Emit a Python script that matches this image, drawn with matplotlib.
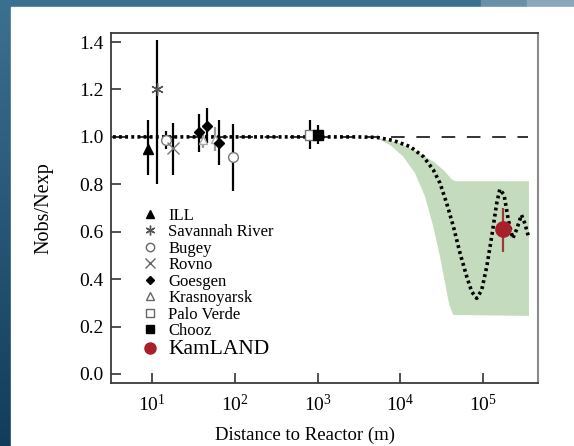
import numpy as np
import matplotlib
matplotlib.use("Agg")
import matplotlib.pyplot as plt
from matplotlib.lines import Line2D
from matplotlib.patches import Rectangle
from matplotlib.ticker import FixedLocator, LogFormatterMathtext, NullLocator

plt.rcParams['font.family'] = ['Liberation Serif', 'DejaVu Serif']
plt.rcParams['mathtext.fontset'] = 'stix'

# Datos (distancia en m, Nobs/Nexp, error abajo, error arriba)
ill_x = [8.9]
ill_y = [0.95]
ill_err = [[0.11], [0.12]]

savannah_x = [11.5]
savannah_y = [1.20]
savannah_err = [[0.40], [0.21]]

bugey_x = [14.8, 94.8]
bugey_y = [0.987, 0.917]
bugey_err = [[0.04, 0.144], [0.04, 0.137]]

rovno_x = [18.2]
rovno_y = [0.952]
rovno_err = [[0.112], [0.108]]

goesgen_x = [37.5, 46.8, 65.3]
goesgen_y = [1.02, 1.046, 0.973]
goesgen_err = [[0.082, 0.071, 0.093], [0.076, 0.074, 0.097]]

krasno_x = [42.0, 58.0]
krasno_y = [0.985, 0.99]
krasno_err = [[0.03, 0.05], [0.03, 0.05]]

paloverde_x = [820.0]
paloverde_y = [1.01]
paloverde_err = [[0.06], [0.06]]

chooz_x = [1000.0]
chooz_y = [1.01]
chooz_err = [[0.04], [0.04]]

kamland_x = [1.74e5]
kamland_y = [0.611]
kamland_err = [[0.095], [0.09]]

# linea de referencia (sin oscilacion)
ref_x = [3.4, 3.5e5]
ref_y = [1.0, 1.0]

# curva de oscilacion punteada
curva_x = [3.4, 1000, 3000, 5.2e3, 8.2e3, 1.31e4, 1.89e4, 2.49e4, 3.0e4, 3.61e4,
           4.35e4, 5.24e4, 6.31e4, 7.24e4, 8.32e4, 9.55e4, 1.10e5, 1.26e5,
           1.45e5, 1.58e5, 1.78e5, 2.0e5, 2.26e5, 2.51e5, 2.88e5, 3.16e5, 3.55e5]
curva_y = [1.0, 1.0, 1.0, 0.998, 0.985, 0.959, 0.917, 0.861, 0.805, 0.72,
           0.622, 0.509, 0.41, 0.347, 0.319, 0.354, 0.453, 0.579,
           0.72, 0.779, 0.755, 0.65, 0.572, 0.608, 0.671, 0.636, 0.572]

# banda verde (borde superior e inferior)
banda_sup_x = [4.9e3, 9.9e3, 1.57e4, 2.49e4, 3.3e4, 4.16e4, 4.56e4, 3.55e5]
banda_sup_y = [0.999, 0.973, 0.938, 0.896, 0.861, 0.821, 0.813, 0.813]
banda_inf_x = [4.9e3, 7.5e3, 1.08e4, 1.5e4, 1.98e4, 2.49e4, 3.0e4, 3.45e4, 3.89e4, 4.35e4, 3.55e5]
banda_inf_y = [0.999, 0.966, 0.917, 0.847, 0.748, 0.622, 0.495, 0.383, 0.291, 0.249, 0.245]

fig = plt.figure(figsize=(5.74, 4.46), dpi=100)

# fondo azul tipo diapositiva
fondo = fig.add_axes([0, 0, 1, 1], zorder=-10)
grad = np.linspace(0, 1, 256).reshape(-1, 1)
fondo.imshow(grad, aspect='auto', extent=[0, 1, 0, 1],
             cmap=matplotlib.colors.LinearSegmentedColormap.from_list('bg', ['#3b7190', '#123c5c']))
fondo.add_patch(Rectangle((481 / 574, 0.98), 1, 0.05, color='#6a90a8'))
fondo.add_patch(Rectangle((527 / 574, 0.98), 1, 0.05, color='#8aa6b8'))
fondo.add_patch(Rectangle((11 / 574, 0), 1, (446 - 7) / 446, color='white'))
fondo.set_xlim(0, 1)
fondo.set_ylim(0, 1)
fondo.axis('off')

ax = fig.add_axes([110.7 / 574, 63 / 446, 426.8 / 574, 349.7 / 446])
ax.set_facecolor('white')

ax.fill(banda_sup_x + banda_inf_x[::-1], banda_sup_y + banda_inf_y[::-1],
        color='#c4dcbd', lw=0, zorder=1)
ax.plot(ref_x, ref_y, color='#333333', lw=1.4, ls=(0, (7, 6)), zorder=2)
ax.plot(curva_x, curva_y, color='black', lw=2.6, ls=(0, (0.8, 0.9)), zorder=3)

eb = dict(ls='none', elinewidth=1.6, capsize=0, zorder=4)
ax.errorbar(ill_x, ill_y, yerr=ill_err, fmt='^', color='black', ms=7, **eb)
ax.errorbar(savannah_x, savannah_y, yerr=savannah_err, fmt='none', ecolor='black', **eb)
ax.plot(savannah_x, savannah_y, marker=(6, 2, 0), color='#555555', ms=9, mew=1.0, ls='none', zorder=5)
ax.errorbar(bugey_x, bugey_y, yerr=bugey_err, fmt='o', color='#777777', ecolor='black',
            mfc='white', mec='#777777', ms=7, mew=1.0, **eb)
ax.errorbar(rovno_x, rovno_y, yerr=rovno_err, fmt='x', color='#777777', ecolor='black',
            ms=8, mew=1.0, **eb)
ax.errorbar(krasno_x, krasno_y, yerr=krasno_err, fmt='^', color='#aaaaaa', ecolor='#999999',
            mfc='white', mec='#aaaaaa', ms=6, mew=1.0, **eb)
ax.errorbar(goesgen_x, goesgen_y, yerr=goesgen_err, fmt='D', color='black', ms=5.5, **eb)
ax.errorbar(paloverde_x, paloverde_y, yerr=paloverde_err, fmt='s', color='#777777', ecolor='black',
            mfc='white', mec='#777777', ms=7, mew=1.0, **eb)
ax.errorbar(chooz_x, chooz_y, yerr=chooz_err, fmt='s', color='black', ms=7, **eb)
ax.errorbar(kamland_x, kamland_y, yerr=kamland_err, fmt='o', color='#a8202a', ecolor='#9a3a3a',
            ms=11, **eb)

ax.set_xscale('log')
ax.set_xlim(3.2, 4.5e5)
ax.set_ylim(-0.038, 1.437)
ax.xaxis.set_major_locator(FixedLocator([1e1, 1e2, 1e3, 1e4, 1e5]))
ax.xaxis.set_major_formatter(LogFormatterMathtext())
ax.xaxis.set_minor_locator(NullLocator())
ax.set_yticks(np.arange(0, 1.41, 0.2))
ax.set_yticklabels([f'{v:.1f}' for v in np.arange(0, 1.41, 0.2)])
ax.tick_params(direction='in', length=7, width=1.2, labelsize=14, color='#333333')
ax.tick_params(axis='x', pad=8)
ax.tick_params(axis='y', pad=5)

for lado in ['left', 'bottom', 'top']:
    ax.spines[lado].set_color('#3a3a3a')
    ax.spines[lado].set_linewidth(1.3)
ax.spines['right'].set_color('#8a8a8a')
ax.spines['right'].set_linewidth(1.5)

ax.set_xlabel('Distance to Reactor (m)', fontsize=13.5)
ax.set_ylabel('Nobs/Nexp', fontsize=14.5)
ax.xaxis.set_label_coords(0.455, -0.125)
ax.yaxis.set_label_coords(-0.135, 0.5)

# leyenda
manejadores = [
    Line2D([], [], ls='none', marker='^', color='black', ms=6),
    Line2D([], [], ls='none', marker=(6, 2, 0), color='#555555', ms=7, mew=1.0),
    Line2D([], [], ls='none', marker='o', mfc='white', mec='#666666', ms=6, mew=1.0),
    Line2D([], [], ls='none', marker='x', color='#666666', ms=7, mew=1.0),
    Line2D([], [], ls='none', marker='D', color='black', ms=4.5),
    Line2D([], [], ls='none', marker='^', mfc='white', mec='#666666', ms=6, mew=1.0),
    Line2D([], [], ls='none', marker='s', mfc='white', mec='#666666', ms=6, mew=1.0),
    Line2D([], [], ls='none', marker='s', color='black', ms=6),
    Line2D([], [], ls='none', marker='o', color='#a8202a', ms=8),
]
etiquetas = ['ILL', 'Savannah River', 'Bugey', 'Rovno', 'Goesgen', 'Krasnoyarsk',
             'Palo Verde', 'Chooz', 'KamLAND']
leg = ax.legend(manejadores, etiquetas, loc='upper left', bbox_to_anchor=(0.045, 0.535),
                frameon=False, fontsize=12, handlelength=1.0, handletextpad=0.6,
                labelspacing=0.03, borderpad=0.2)
leg.get_texts()[-1].set_fontsize(15.5)

fig.savefig('out.png', dpi=100)
